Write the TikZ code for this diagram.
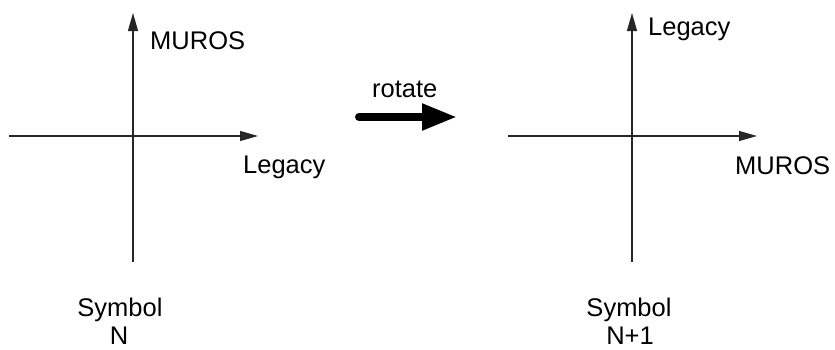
\documentclass[tikz,border=0pt]{standalone}
\usepackage{fontspec}
\setmainfont{Liberation Sans}
\usetikzlibrary{arrows.meta}
\begin{document}
\begin{tikzpicture}[x=1bp,y=-1bp,
  axis/.style={draw=black!85,line width=1.2bp,-{Triangle[length=18bp,width=10bp]}},
  lbl/.style={inner sep=0pt,font=\fontsize{25.5bp}{30bp}\selectfont},
  bigarrow/.style={draw=black,line width=8bp,line cap=round,-{Triangle[length=35bp,width=25bp]}}]
\useasboundingbox (0,0) rectangle (835,349);
% left axes
\coordinate (lh0) at (9,136);
\coordinate (lh1) at (258,136);
\coordinate (lv0) at (133,262);
\coordinate (lv1) at (133,13);
\draw[axis] (lh0) -- (lh1);
\draw[axis] (lv0) -- (lv1);
\node[lbl,anchor=base west] (lmuros) at (150,49) {MUROS};
\node[lbl,anchor=base west] (llegacy) at (243,173) {Legacy};
\node[lbl,anchor=base] (lsym) at (120,316) {Symbol};
\node[lbl,anchor=base] (ln) at (119,344) {N};
% rotate arrow
\coordinate (r0) at (359,117);
\coordinate (r1) at (457,117);
\draw[bigarrow] (r0) -- (r1);
\node[lbl,anchor=base west] (rot) at (372,97) {rotate};
% right axes
\coordinate (rh0) at (508,136);
\coordinate (rh1) at (757,136);
\coordinate (rv0) at (632,262);
\coordinate (rv1) at (632,13);
\draw[axis] (rh0) -- (rh1);
\draw[axis] (rv0) -- (rv1);
\node[lbl,anchor=base west] (rlegacy) at (648,35) {Legacy};
\node[lbl,anchor=base west] (rmuros) at (735,174) {MUROS};
\node[lbl,anchor=base] (rsym) at (629,316) {Symbol};
\node[lbl,anchor=base] (rn) at (630,344) {N+1};
\end{tikzpicture}
\end{document}
